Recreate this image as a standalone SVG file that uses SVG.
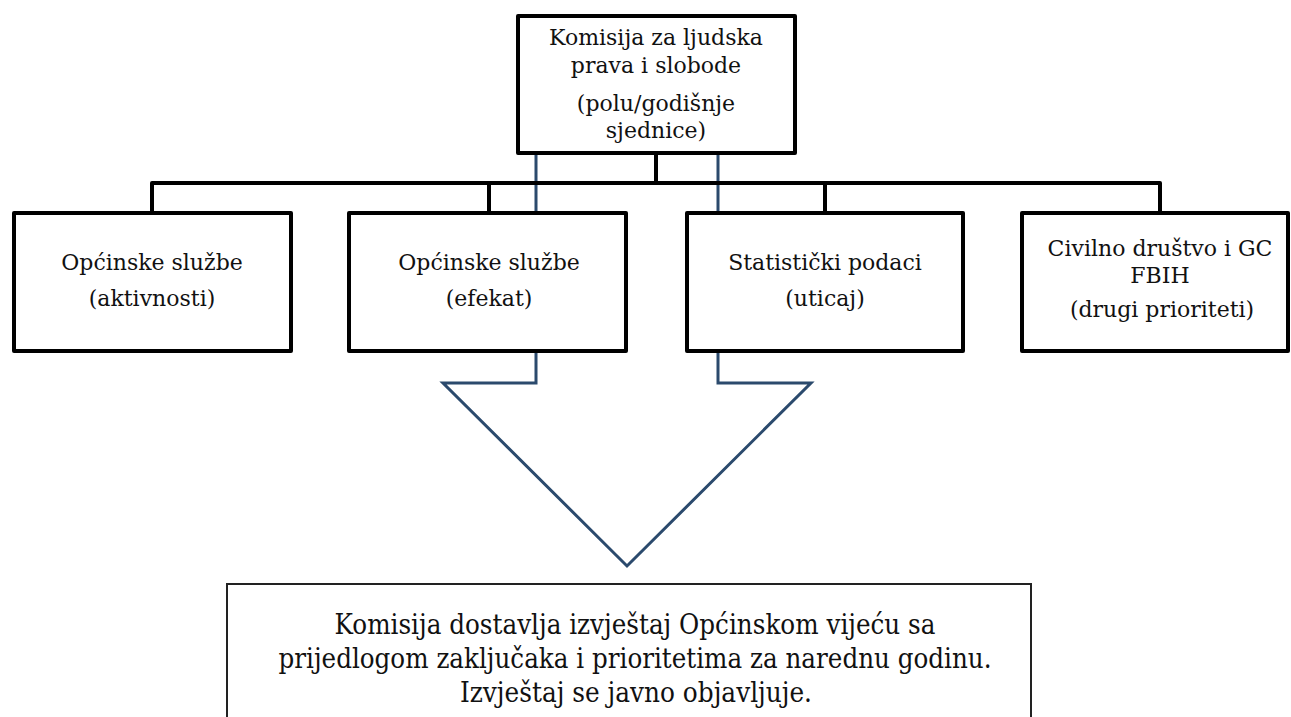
<svg xmlns="http://www.w3.org/2000/svg" width="1291" height="717" viewBox="0 0 1291 717">
<style>
.box{fill:#fff;stroke:#000;stroke-width:4;stroke-linejoin:round}
.conn{fill:none;stroke:#000;stroke-width:4;stroke-linejoin:round}
.arrow{fill:none;stroke:#2b4a6d;stroke-width:3;stroke-linejoin:miter}
.t{font-family:"DejaVu Serif","Liberation Serif",serif;font-size:22px;fill:#111;text-anchor:middle}
.b{font-family:"DejaVu Serif","Liberation Serif",serif;font-size:27px;fill:#111;text-anchor:middle}
</style>
<rect width="1291" height="717" fill="#fff"/>
<g id="arrow">
<path class="arrow" d="M536,153 V383 H443 L627,566 L811,383 H718 V153"/>
</g>
<g id="connectors">
<path class="conn" d="M656,153 V183 M152,213 V183 H1160 V213 M489,183 V213 M825,183 V213"/>
</g>
<g id="n-komisija">
<rect class="box" x="518" y="16" width="277" height="137"/>
<text class="t" x="656" y="45">Komisija za ljudska</text>
<text class="t" x="656" y="73">prava i slobode</text>
<text class="t" x="656" y="111">(polu/godišnje</text>
<text class="t" x="656" y="138">sjednice)</text>
</g>
<g id="n-aktivnosti">
<rect class="box" x="14" y="213" width="277" height="138"/>
<text class="t" x="152" y="270">Općinske službe</text>
<text class="t" x="152" y="306">(aktivnosti)</text>
</g>
<g id="n-efekat">
<rect class="box" x="349" y="213" width="277" height="138"/>
<text class="t" x="489" y="270">Općinske službe</text>
<text class="t" x="489" y="306">(efekat)</text>
</g>
<g id="n-uticaj">
<rect class="box" x="687" y="213" width="276" height="138"/>
<text class="t" x="825" y="270">Statistički podaci</text>
<text class="t" x="825" y="306">(uticaj)</text>
</g>
<g id="n-civilno">
<rect class="box" x="1022" y="213" width="266" height="138"/>
<text class="t" x="1160" y="256">Civilno društvo i GC</text>
<text class="t" x="1160" y="283">FBIH</text>
<text class="t" x="1162" y="317">(drugi prioriteti)</text>
</g>
<g id="n-izvjestaj">
<rect x="227" y="584" width="804" height="200" fill="#fff" stroke="#222" stroke-width="2"/>
<text class="b" x="635" y="634" textLength="601" lengthAdjust="spacingAndGlyphs">Komisija dostavlja izvještaj Općinskom vijeću sa</text>
<text class="b" x="635" y="668" textLength="713" lengthAdjust="spacingAndGlyphs">prijedlogom zaključaka i prioritetima za narednu godinu.</text>
<text class="b" x="636" y="702" textLength="352" lengthAdjust="spacingAndGlyphs">Izvještaj se javno objavljuje.</text>
</g>
</svg>
